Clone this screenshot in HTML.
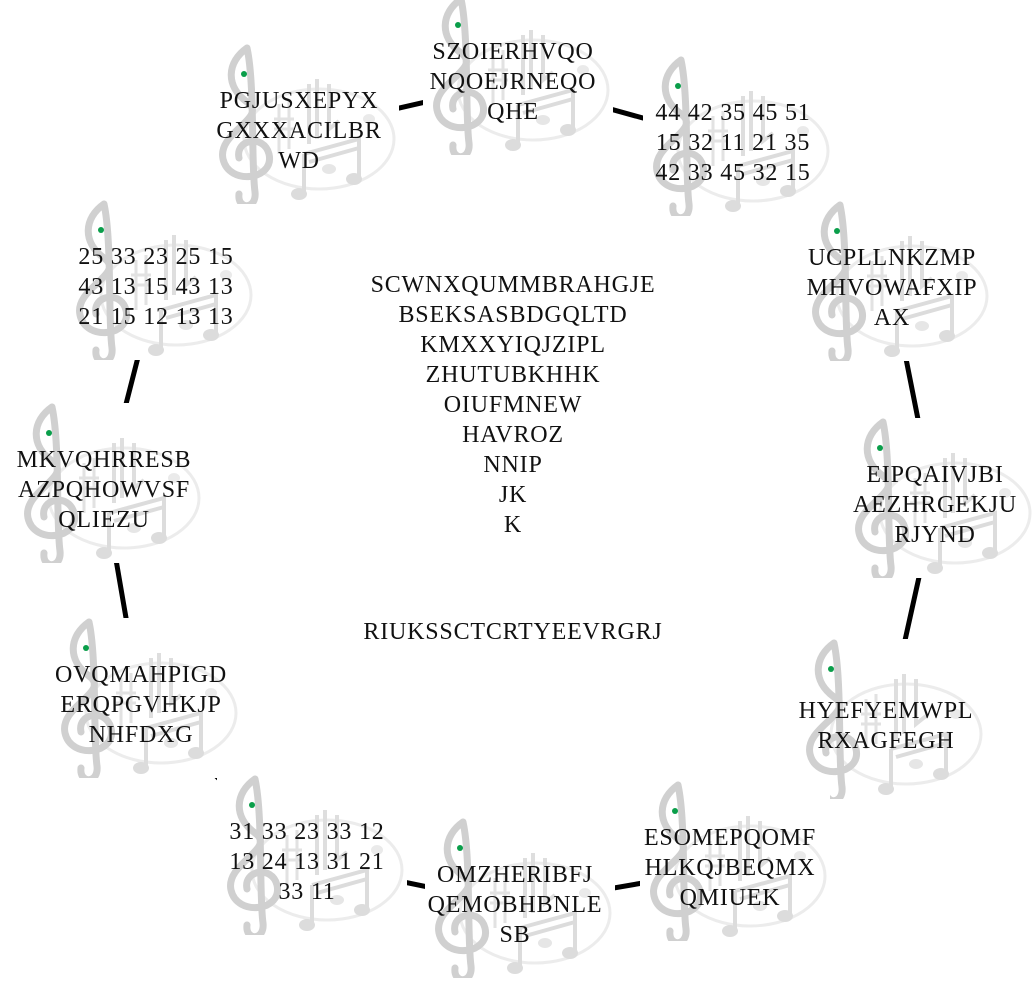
<!DOCTYPE html>
<html><head><meta charset="utf-8"><style>
body{margin:0;width:1036px;height:981px;background:#fff;position:relative;overflow:hidden;font-family:"Liberation Serif",Georgia,serif;}
.n{position:absolute;width:190px;height:160px;background:#fff;}
.n svg{position:absolute;left:0;top:0;}
.t{position:absolute;left:-20px;width:220px;top:87px;transform:translateY(-50%);text-align:center;font-size:24px;letter-spacing:0.8px;line-height:30px;color:#111;white-space:nowrap;}
.c{position:absolute;left:213px;width:600px;text-align:center;font-size:24px;letter-spacing:0.8px;line-height:30px;color:#111;}
</style></head><body>
<svg width="1036" height="981" style="position:absolute;left:0;top:0">
<polygon points="513,82 733,143 892,288 935,505 886,726 730,868 515,905 307,862 141,705 104,490 156,287 299,131" fill="none" stroke="#000" stroke-width="5"/>
</svg>
<svg width="0" height="0" style="position:absolute"><defs>
<g id="ic">
<ellipse cx="110" cy="95" rx="75" ry="50" fill="none" stroke="#ececec" stroke-width="3"/>
<path d="M70,60 v50 M80,55 v50 M65,75 h20 M65,85 h20" stroke="#e2e2e2" stroke-width="3" fill="none"/>
<path d="M100,40 v60 M108,35 v60 M120,40 v45 l10,-8" stroke="#dedede" stroke-width="4" fill="none"/>
<path d="M95,110 l55,-15 v40 M95,110 v40 M100,118 l50,-14" stroke="#dcdcdc" stroke-width="4" fill="none"/>
<ellipse cx="90" cy="150" rx="8" ry="6" fill="#dcdcdc"/><ellipse cx="145" cy="135" rx="8" ry="6" fill="#dcdcdc"/>
<ellipse cx="120" cy="125" rx="7" ry="5" fill="#e6e6e6"/><ellipse cx="160" cy="75" rx="6" ry="5" fill="#eaeaea"/>
<path d="M38,4 C18,18 16,42 38,58 C60,74 8,88 14,115 C20,142 66,136 60,110 C55,90 26,95 30,114 M38,4 C46,40 42,120 46,148 C48,166 28,166 30,150" stroke="#d0d0d0" stroke-width="7" fill="none" stroke-linecap="round"/>
<circle cx="35" cy="30" r="3" fill="#0a9e4a"/>
</g></defs></svg>

<div class="n" style="left:423px;top:-5px"><svg width="190" height="160"><use href="#ic"/></svg><div class="t">SZOIERHVQO<br>NQOEJRNEQO<br>QHE</div></div>
<div class="n" style="left:643px;top:56px"><svg width="190" height="160"><use href="#ic"/></svg><div class="t">44 42 35 45 51<br>15 32 11 21 35<br>42 33 45 32 15</div></div>
<div class="n" style="left:802px;top:201px"><svg width="190" height="160"><use href="#ic"/></svg><div class="t">UCPLLNKZMP<br>MHVOWAFXIP<br>AX</div></div>
<div class="n" style="left:845px;top:418px"><svg width="190" height="160"><use href="#ic"/></svg><div class="t">EIPQAIVJBI<br>AEZHRGEKJU<br>RJYND</div></div>
<div class="n" style="left:796px;top:639px"><svg width="190" height="160"><use href="#ic"/></svg><div class="t">HYEFYEMWPL<br>RXAGFEGH</div></div>
<div class="n" style="left:640px;top:781px"><svg width="190" height="160"><use href="#ic"/></svg><div class="t">ESOMEPQOMF<br>HLKQJBEQMX<br>QMIUEK</div></div>
<div class="n" style="left:425px;top:818px"><svg width="190" height="160"><use href="#ic"/></svg><div class="t">OMZHERIBFJ<br>QEMOBHBNLE<br>SB</div></div>
<div class="n" style="left:217px;top:775px"><svg width="190" height="160"><use href="#ic"/></svg><div class="t">31 33 23 33 12<br>13 24 13 31 21<br>33 11</div></div>
<div class="n" style="left:51px;top:618px"><svg width="190" height="160"><use href="#ic"/></svg><div class="t">OVQMAHPIGD<br>ERQPGVHKJP<br>NHFDXG</div></div>
<div class="n" style="left:14px;top:403px"><svg width="190" height="160"><use href="#ic"/></svg><div class="t">MKVQHRRESB<br>AZPQHOWVSF<br>QLIEZU</div></div>
<div class="n" style="left:66px;top:200px"><svg width="190" height="160"><use href="#ic"/></svg><div class="t">25 33 23 25 15<br>43 13 15 43 13<br>21 15 12 13 13</div></div>
<div class="n" style="left:209px;top:44px"><svg width="190" height="160"><use href="#ic"/></svg><div class="t">PGJUSXEPYX<br>GXXXACILBR<br>WD</div></div>

<div class="c" style="top:270px">SCWNXQUMMBRAHGJE<br>BSEKSASBDGQLTD<br>KMXXYIQJZIPL<br>ZHUTUBKHHK<br>OIUFMNEW<br>HAVROZ<br>NNIP<br>JK<br>K</div>
<div class="c" style="top:617px">RIUKSSCTCRTYEEVRGRJ</div>
</body></html>
